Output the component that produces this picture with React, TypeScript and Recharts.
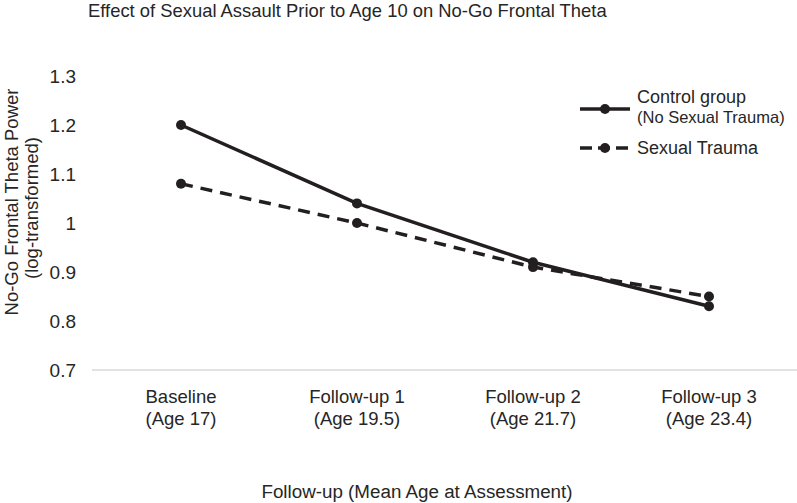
import React from 'react'
import { LineChart, Line, XAxis, YAxis, Customized } from 'recharts'

// Timepoints and their mean ages
const timepoints = ['Baseline', 'Follow-up 1', 'Follow-up 2', 'Follow-up 3']
const ages = ['(Age 17)', '(Age 19.5)', '(Age 21.7)', '(Age 23.4)']

// No-Go frontal theta power (log-transformed)
const controlGroup = [1.2, 1.04, 0.92, 0.83]
const sexualTrauma = [1.08, 1.0, 0.91, 0.85]

const yTicks = [0.7, 0.8, 0.9, 1, 1.1, 1.2, 1.3]

const INK = '#231f20'
const TEXT = '#262626'
const FONT = '"Liberation Sans", Arial, sans-serif'

const chartData = timepoints.map((t, i) => ({
  timepoint: t,
  age: ages[i],
  control: controlGroup[i],
  trauma: sexualTrauma[i],
}))

const XTick = (props: any) => {
  const { x, y, payload, index } = props
  return (
    <g>
      <text x={x} y={y + 25} textAnchor="middle" fontSize={18.5} fill={TEXT} fontFamily={FONT}>
        {payload.value}
      </text>
      <text x={x} y={y + 47} textAnchor="middle" fontSize={18.5} fill={TEXT} fontFamily={FONT}>
        {ages[index]}
      </text>
    </g>
  )
}

const YTick = (props: any) => {
  const { y, payload } = props
  return (
    <text x={76} y={y} dy={7} textAnchor="end" fontSize={19} fill={TEXT} fontFamily={FONT}>
      {payload.value}
    </text>
  )
}

const LegendItem = ({ y, dashed }: { y: number; dashed?: boolean }) => (
  <g>
    <line
      x1={580}
      y1={y}
      x2={630}
      y2={y}
      stroke={INK}
      strokeWidth={3.5}
      strokeDasharray={dashed ? '12 6' : undefined}
    />
    <circle cx={605} cy={y} r={5} fill={INK} />
  </g>
)

const Annotations = () => (
  <g fontFamily={FONT} fill={TEXT}>
    <text x={88} y={17} fontSize={18.4}>
      Effect of Sexual Assault Prior to Age 10 on No-Go Frontal Theta
    </text>
    <text transform="translate(18,202) rotate(-90)" textAnchor="middle" fontSize={18.5}>
      No-Go Frontal Theta Power
    </text>
    <text transform="translate(38,208) rotate(-90)" textAnchor="middle" fontSize={18.5}>
      (log-transformed)
    </text>
    <text x={417} y={498} textAnchor="middle" fontSize={18.8}>
      Follow-up (Mean Age at Assessment)
    </text>
    <LegendItem y={109} />
    <text x={637} y={103} fontSize={18}>
      Control group
    </text>
    <text x={637} y={123} fontSize={16.5}>
      (No Sexual Trauma)
    </text>
    <LegendItem y={148} dashed />
    <text x={637} y={154} fontSize={18}>
      Sexual Trauma
    </text>
  </g>
)

export default function App() {
  return (
    <div style={{ position: 'absolute', left: 0, top: 0, width: 797, height: 503, background: '#fff' }}>
      <LineChart
        width={797}
        height={503}
        data={chartData}
        margin={{ top: 76, right: 0, bottom: 0, left: 0 }}
      >
        <XAxis
          dataKey="timepoint"
          padding={{ left: 89, right: 88 }}
          axisLine={{ stroke: '#d9d9d9', strokeWidth: 1.5 }}
          tickLine={false}
          tick={<XTick />}
          interval={0}
          height={133}
        />
        <YAxis
          domain={[0.7, 1.3]}
          ticks={yTicks}
          interval={0}
          axisLine={false}
          tickLine={false}
          tick={<YTick />}
          width={92}
        />
        <Line
          dataKey="control"
          stroke={INK}
          strokeWidth={3.5}
          dot={{ r: 5, fill: INK, stroke: 'none' }}
          activeDot={false}
          isAnimationActive={false}
        />
        <Line
          dataKey="trauma"
          stroke={INK}
          strokeWidth={3.5}
          strokeDasharray="12 8"
          dot={{ r: 5, fill: INK, stroke: 'none' }}
          activeDot={false}
          isAnimationActive={false}
        />
        <Customized component={Annotations} />
      </LineChart>
    </div>
  )
}
